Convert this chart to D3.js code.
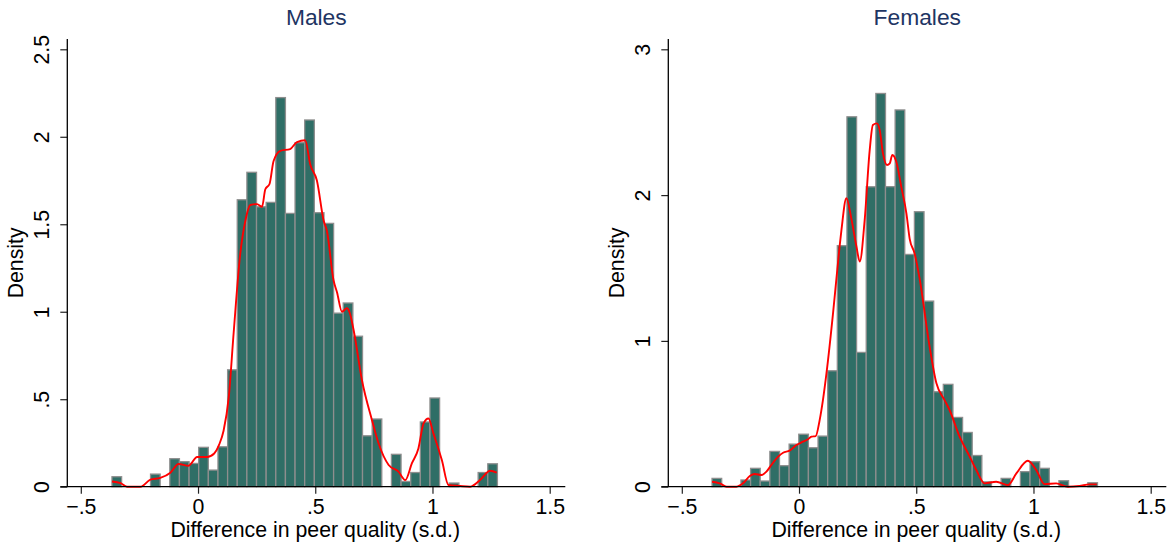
<!DOCTYPE html>
<html>
<head>
<meta charset="utf-8">
<script src="https://cdn.jsdelivr.net/npm/d3@7"></script>
<style>
html,body{margin:0;padding:0;background:#fff;}
svg{display:block;font-family:"Liberation Sans",Arial,Helvetica,sans-serif;}
</style>
</head>
<body>
<svg id="chart" width="1172" height="548"></svg>
<script>
// ---- data ----
const binWidth = 0.0411;
const maleBinStart = -0.367;
const femaleBinStart = -0.371;
const maleDensity = [0.057,0,0,0,0.072,0,0.160,0.143,0.133,0.225,0.095,0.228,0.668,1.640,1.797,1.600,1.625,2.224,1.562,1.966,2.096,1.566,1.505,0.992,1.050,0.860,0.291,0.387,0,0.185,0.030,0.081,0.370,0.507,0,0.021,0,0,0.081,0.131];
const femaleDensity = [0.057,0,0,0.046,0.126,0.039,0.242,0.144,0.292,0.360,0.267,0.347,0.795,1.653,2.537,0.921,2.057,2.697,2.058,2.584,1.593,1.886,1.273,0.651,0.702,0.475,0.372,0.214,0.033,0,0.057,0,0.103,0.171,0.126,0,0.041,0,0,0.027];
const maleKdeX = [-0.367,-0.33,-0.303,-0.246,-0.203,-0.161,-0.118,-0.083,-0.040,-0.004,0.038,0.069,0.09,0.109,0.131,0.152,0.180,0.202,0.223,0.252,0.273,0.287,0.305,0.322,0.351,0.393,0.422,0.457,0.479,0.507,0.536,0.550,0.578,0.593,0.614,0.635,0.648,0.663,0.699,0.742,0.770,0.813,0.855,0.884,0.912,0.940,0.962,0.983,1.004,1.040,1.068,1.118,1.161,1.203,1.246,1.274];
const maleKdeY = [0.03,0.02,0.0,0.0,0.04,0.05,0.08,0.13,0.12,0.17,0.17,0.19,0.24,0.32,0.51,0.88,1.33,1.52,1.61,1.615,1.60,1.70,1.73,1.86,1.92,1.93,1.97,1.98,1.84,1.75,1.52,1.46,1.18,1.11,1.0,1.02,0.99,0.90,0.61,0.38,0.248,0.124,0.086,0.038,0.133,0.219,0.362,0.39,0.305,0.152,0.01,0.004,0,0.038,0.091,0.08];
const femaleKdeX = [-0.371,-0.338,-0.309,-0.267,-0.239,-0.210,-0.189,-0.160,-0.139,-0.118,-0.089,-0.068,-0.040,-0.011,0.017,0.038,0.053,0.071,0.088,0.102,0.117,0.145,0.159,0.173,0.181,0.202,0.223,0.245,0.259,0.280,0.301,0.315,0.332,0.344,0.358,0.375,0.387,0.398,0.415,0.436,0.458,0.472,0.493,0.514,0.557,0.586,0.621,0.642,0.685,0.728,0.756,0.792,0.841,0.891,0.927,0.976,1.012,1.047,1.097,1.147,1.196,1.239,1.270];
const femaleKdeY = [0.034,0.023,0,0,0.023,0.073,0.087,0.08,0.103,0.149,0.206,0.233,0.247,0.286,0.309,0.325,0.343,0.347,0.457,0.594,0.777,1.189,1.418,1.646,1.761,1.978,1.84,1.647,1.544,1.829,2.30,2.481,2.492,2.447,2.286,2.206,2.218,2.275,2.229,2.058,1.875,1.70,1.60,1.43,0.96,0.709,0.594,0.526,0.343,0.206,0.114,0.023,0.034,0.011,0.091,0.178,0.114,0.018,0.023,0,0.005,0.016,0.016];
const xTickValues = [-0.5,0,0.5,1,1.5];
const xTickLabels = ["\u2212.5","0",".5","1","1.5"];
const maleYTicks = [0,0.5,1,1.5,2,2.5];
const maleYLabels = ["0",".5","1","1.5","2","2.5"];
const femaleYTicks = [0,1,2,3];
const femaleYLabels = ["0","1","2","3"];
const titles = ["Males","Females"];
const xTitle = "Difference in peer quality (s.d.)";
const yTitle = "Density";

// ---- drawing ----
const svg = d3.select("#chart");
const panels = [
  {x0:67.3, title:titles[0], start:maleBinStart, dens:maleDensity, kx:maleKdeX, ky:maleKdeY, yMax:2.5, yt:maleYTicks, yl:maleYLabels},
  {x0:668.3, title:titles[1], start:femaleBinStart, dens:femaleDensity, kx:femaleKdeX, ky:femaleKdeY, yMax:3, yt:femaleYTicks, yl:femaleYLabels}
];
const yBase = 486.7, yTopVal = 49.3, axisTop = 39;
const fs = 21.3;

panels.forEach(p => {
  const g = svg.append("g");
  const x = d3.scaleLinear().domain([-0.5,1.5]).range([p.x0+13.5, p.x0+482.4]);
  const y = d3.scaleLinear().domain([0,p.yMax]).range([yBase, yTopVal]);
  const right = p.x0 + 498;

  // bars
  const bins = p.dens.map((d,i)=>({x0:p.start+i*binWidth, x1:p.start+(i+1)*binWidth, d:d})).filter(b=>b.d>0);
  g.selectAll("rect.bar").data(bins).join("rect")
    .attr("class","bar")
    .attr("x", b=>x(b.x0))
    .attr("width", b=>x(b.x1)-x(b.x0))
    .attr("y", b=>y(b.d))
    .attr("height", b=>y(0)-y(b.d))
    .attr("fill","#2f6e66")
    .attr("stroke","#8e8e8e")
    .attr("stroke-width",1.3);

  // kde line
  const pts = p.kx.map((v,i)=>[v,p.ky[i]]);
  g.append("path")
    .datum(pts)
    .attr("fill","none")
    .attr("stroke","#ff0000")
    .attr("stroke-width",1.9)
    .attr("stroke-linejoin","round")
    .attr("d", d3.line().x(d=>x(d[0])).y(d=>y(d[1])).curve(d3.curveMonotoneX));

  // x axis
  const xa = g.append("g").attr("transform",`translate(0,${yBase})`)
    .call(d3.axisBottom(x).tickValues(xTickValues).tickFormat((d,i)=>xTickLabels[i]).tickSize(7).tickPadding(5).tickSizeOuter(0));
  xa.select(".domain").remove();
  xa.selectAll(".tick line").attr("stroke","#222").attr("stroke-width",1.2);
  xa.selectAll(".tick text").attr("font-size",fs).attr("fill","#000").attr("font-family","Liberation Sans, Arial, sans-serif");
  g.append("line").attr("x1",p.x0-7).attr("x2",right).attr("y1",yBase).attr("y2",yBase).attr("stroke","#000").attr("stroke-width",1.3);

  // y axis
  const ya = g.append("g").attr("transform",`translate(${p.x0},0)`)
    .call(d3.axisLeft(y).tickValues(p.yt).tickFormat((d,i)=>p.yl[i]).tickSize(7).tickSizeOuter(0));
  ya.select(".domain").remove();
  ya.selectAll(".tick line").attr("stroke","#222").attr("stroke-width",1.2);
  ya.selectAll(".tick text")
    .attr("x",null).attr("dy",null)
    .attr("transform","translate(-18.5,0) rotate(-90)")
    .attr("text-anchor","middle")
    .attr("font-size",fs).attr("fill","#000").attr("font-family","Liberation Sans, Arial, sans-serif");
  g.append("line").attr("x1",p.x0).attr("x2",p.x0).attr("y1",axisTop).attr("y2",yBase).attr("stroke","#000").attr("stroke-width",1.3);

  // titles
  g.append("text").attr("x",(p.x0+right)/2).attr("y",25).attr("text-anchor","middle")
    .attr("font-size",22.8).attr("fill","#1e3563").text(p.title);
  g.append("text").attr("x",(x(-0.5)+x(1.5))/2).attr("y",537).attr("text-anchor","middle")
    .attr("font-size",fs).attr("fill","#000").text(xTitle);
  g.append("text").attr("transform",`translate(${p.x0-44},${(yBase+axisTop)/2}) rotate(-90)`)
    .attr("text-anchor","middle").attr("font-size",fs).attr("fill","#000").text(yTitle);
});
</script>
</body>
</html>
